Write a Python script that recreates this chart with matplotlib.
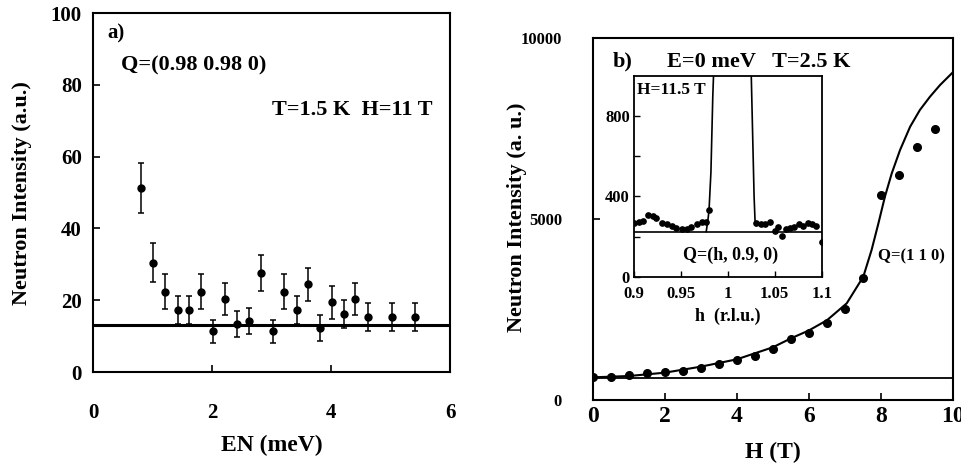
import numpy as np
import matplotlib
matplotlib.use("Agg")
import matplotlib.pyplot as plt

plt.rcParams['font.family'] = ['Liberation Serif', 'DejaVu Serif']
plt.rcParams['font.weight'] = 'bold'
plt.rcParams['axes.labelweight'] = 'bold'

# panel a: energy scan at Q=(0.98 0.98 0)
en = [0.81, 1.01, 1.21, 1.42, 1.62, 1.82, 2.02, 2.22, 2.42, 2.62, 2.82, 3.02,
      3.21, 3.42, 3.62, 3.81, 4.02, 4.22, 4.41, 4.62, 5.02, 5.41]
en_int = [51.2, 30.5, 22.4, 17.3, 17.3, 22.4, 11.3, 20.4, 13.3, 14.2, 27.5, 11.3,
          22.4, 17.3, 24.4, 12.2, 19.4, 16.2, 20.4, 15.3, 15.3, 15.3]
en_err = [7.0, 5.5, 4.8, 4.0, 4.0, 4.8, 3.3, 4.4, 3.6, 3.6, 5.0, 3.3,
          4.8, 4.0, 4.7, 3.6, 4.5, 4.0, 4.4, 4.0, 4.0, 4.0]
en_bg = 13.0

# panel b: field dependence at Q=(1 1 0)
field = [0, 0.5, 1.0, 1.5, 2.0, 2.5, 3.0, 3.5, 4.0, 4.5, 5.0, 5.5, 6.0, 6.5,
         7.0, 7.5, 8.0, 8.5, 9.0, 9.5]
field_int = [644, 644, 690, 754, 764, 800, 892, 994, 1104, 1214, 1408, 1684,
             1858, 2116, 2502, 3358, 5658, 6210, 6992, 7470]
fit_h = [0, 1, 2, 3, 4, 5, 5.5, 6, 6.5, 7.05, 7.51, 7.74, 7.93, 8.11, 8.30,
         8.53, 8.81, 9.08, 9.36, 9.64, 10]
fit_int = [626, 662, 754, 920, 1123, 1455, 1700, 1920, 2200, 2668, 3403, 4140,
           4877, 5612, 6257, 6900, 7544, 8004, 8371, 8694, 9050]
field_bg = 620

# inset: h scan at H=11.5 T
h_left = [0.900, 0.905, 0.910, 0.915, 0.920, 0.924, 0.930, 0.935, 0.940,
          0.945, 0.951, 0.956, 0.961, 0.967, 0.972, 0.977, 0.980]
int_left = [270, 275, 278, 305, 303, 292, 270, 262, 253, 242, 237, 238, 250,
            262, 272, 275, 333]
h_right = [1.030, 1.035, 1.040, 1.045, 1.050, 1.054, 1.058, 1.062, 1.066,
           1.071, 1.076, 1.080, 1.085, 1.090, 1.094, 1.100]
int_right = [267, 262, 265, 275, 228, 247, 205, 240, 242, 250, 262, 253, 268,
             262, 255, 175]
peak_h = [0.977, 0.979, 0.980, 0.982, 0.984, 0.9855, 1.0245, 1.026, 1.028,
          1.029, 1.030]
peak_int = [225, 290, 333, 520, 900, 1100, 1100, 800, 400, 280, 255]
inset_bg = 225

fig = plt.figure(figsize=(9.61, 4.66), dpi=100)

# ---- panel a ----
ax = fig.add_axes([0.0968, 0.2017, 0.3715, 0.770])
ax.errorbar(en, en_int, yerr=en_err, fmt='o', color='black', markersize=5,
            capsize=2.5, elinewidth=1.1, capthick=1.1)
ax.axhline(en_bg, color='black', lw=2.2)
ax.set_xlim(0, 6)
ax.set_ylim(0, 100)
ax.set_xticks([0, 2, 4, 6])
ax.set_yticks([0, 20, 40, 60, 80, 100])
ax.tick_params(direction='in', length=5, width=1.2, labelsize=15)
ax.tick_params(axis='x', pad=22)
ax.tick_params(axis='y', pad=8)
for s in ax.spines.values():
    s.set_linewidth(1.5)
ax.set_xlabel('EN (meV)', fontsize=17)
ax.set_ylabel('Neutron Intensity (a.u.)', fontsize=16)
ax.xaxis.set_label_coords(0.5, -0.175)
ax.yaxis.set_label_coords(-0.172, 0.5)
ax.text(0.235, 94.4, 'a)', fontsize=15, va='center')
ax.text(0.47, 85.5, 'Q=(0.98 0.98 0)', fontsize=16, va='center')
ax.text(3.01, 73, 'T=1.5 K  H=11 T', fontsize=16, va='center')

# ---- panel b ----
bx = fig.add_axes([0.6167, 0.1416, 0.375, 0.7775])
bx.plot(fit_h, fit_int, color='black', lw=1.5)
bx.plot(field, field_int, 'o', color='black', markersize=5.5)
bx.axhline(field_bg, color='black', lw=1.3)
bx.set_xlim(0, 10)
bx.set_ylim(0, 10000)
bx.set_xticks([0, 2, 4, 6, 8, 10])
bx.set_yticks([0, 5000, 10000])
bx.tick_params(direction='in', length=5, width=1.2)
bx.tick_params(axis='x', labelsize=17, pad=4)
bx.tick_params(axis='y', labelsize=12, pad=22)
for s in bx.spines.values():
    s.set_linewidth(1.5)
bx.set_xlabel('H (T)', fontsize=17)
bx.set_ylabel('Neutron Intensity (a. u.)', fontsize=16)
bx.xaxis.set_label_coords(0.5, -0.116)
bx.yaxis.set_label_coords(-0.182, 0.505)
bx.text(0.555, 9338, 'b)', fontsize=16, va='center')
bx.text(2.05, 9338, 'E=0 meV   T=2.5 K', fontsize=16, va='center')
bx.text(7.92, 3955, 'Q=(1 1 0)', fontsize=12, va='center')

# ---- inset ----
ix = fig.add_axes([0.6597, 0.4062, 0.1953, 0.4307])
ix.plot(peak_h, peak_int, color='black', lw=1.2)
ix.plot(h_left, int_left, 'o', color='black', markersize=3.8)
ix.plot(h_right, int_right, 'o', color='black', markersize=3.8)
ix.axhline(inset_bg, color='black', lw=1.2)
ix.set_xlim(0.9, 1.1)
ix.set_ylim(0, 1000)
ix.set_xticks([0.9, 0.95, 1.0, 1.05, 1.1])
ix.set_xticklabels(['0.9', '0.95', '1', '1.05', '1.1'])
ix.set_yticks([0, 200, 400, 600, 800])
ix.set_yticklabels(['0', '', '400', '', '800'])
ix.tick_params(direction='in', length=4, width=1.0, labelsize=12)
ix.tick_params(axis='x', pad=7)
ix.tick_params(axis='y', pad=3)
for s in ix.spines.values():
    s.set_linewidth(1.3)
ix.set_xlabel('h  (r.l.u.)', fontsize=13)
ix.xaxis.set_label_coords(0.5, -0.156)
ix.text(0.9029, 930, 'H=11.5 T', fontsize=12.5, va='center')
ix.text(1.0031, 108, 'Q=(h, 0.9, 0)', fontsize=13, va='center', ha='center')

fig.savefig('out.png', dpi=100)
